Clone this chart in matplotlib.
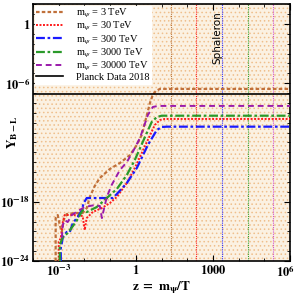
import numpy as np
import matplotlib
matplotlib.use("Agg")
import matplotlib.pyplot as plt
import matplotlib.transforms as mtransforms

plt.rcParams['font.family'] = ['Liberation Serif', 'DejaVu Serif']
plt.rcParams['mathtext.fontset'] = 'stix'
plt.rcParams['hatch.linewidth'] = 0.6

# masses (TeV) and sphaleron decoupling temperature (GeV)
masses = [3, 30, 300, 3000, 30000]
T_sph = 131.7
planck = 7.5e-8

# curves, as log10(z) and log10(Y_B-L)
lz_3 = [-3.12, -3.12, -3.04, -2.96, -2.88, -2.81, -2.69, -2.38, -2.07, -1.91, -1.79, -1.60,
        -1.40, -1.01, -0.62, -0.23, 0.04, 0.23, 0.43, 0.55, 0.66, 0.78, 0.94, 6.0]
ly_3 = [-24.0, -19.65, -19.34, -20.35, -21.06, -19.85, -19.24, -19.14, -19.14, -18.63, -17.52, -16.41,
        -15.59, -14.68, -14.08, -13.27, -12.25, -11.24, -9.22, -8.0, -7.19, -6.78, -6.58, -6.58]

lz_30 = [-3.00, -3.00, -2.92, -2.84, -2.77, -2.38, -2.07, -1.99, -1.91, -1.68, -1.32,
         -1.01, -0.74, -0.35, -0.04, 0.43, 0.74, 0.94, 1.13, 6.0]
ly_30 = [-24.0, -22.08, -21.67, -20.05, -19.34, -19.34, -19.44, -20.86, -19.65, -19.04, -18.63,
         -18.13, -17.52, -16.10, -14.58, -11.95, -10.23, -9.72, -9.62, -9.62]

lz_300 = [-2.92, -2.92, -2.88, -2.84, -2.69, -2.57, -2.45, -2.26, -2.10, -2.03, -1.91, -1.40,
          -0.90, -0.74, -0.35, 0.04, 0.47, 0.82, 1.01, 1.21, 6.0]
ly_300 = [-24.0, -22.68, -22.18, -21.57, -21.06, -21.06, -20.15, -19.54, -18.84, -18.13, -17.62, -17.62,
          -17.62, -17.22, -16.10, -14.58, -12.25, -10.73, -10.43, -10.40, -10.40]

lz_3000 = [-2.96, -2.96, -2.84, -2.65, -2.45, -2.26, -2.07, -1.91, -1.52, -1.13, -0.74,
           -0.35, -0.04, 0.27, 0.62, 0.82, 1.01, 6.0]
ly_3000 = [-24.0, -22.38, -21.57, -21.16, -20.46, -19.75, -18.84, -19.04, -18.53, -17.62, -16.71,
           -15.29, -13.77, -11.95, -9.92, -9.42, -9.29, -9.29]

lz_30000 = [-2.88, -2.84, -2.77, -2.65, -2.49, -2.26, -1.99, -1.60, -1.40, -1.32, -1.25,
            -1.13, -0.94, -0.62, -0.35, -0.12, 0.16, 0.47, 0.66, 0.86, 6.0]
ly_30000 = [-21.67, -20.35, -19.85, -20.05, -19.34, -18.94, -18.53, -18.33, -18.43, -19.65, -18.84,
            -17.52, -16.30, -14.79, -13.98, -12.96, -11.55, -9.22, -8.41, -8.30, -8.30]

curves = [
    (lz_3, ly_3, '#c0703a', (0, (1.6, 1.0)), 1.6, r'm$_\psi$ = 3 TeV'),
    (lz_30, ly_30, '#ff1a1a', (0, (1.0, 0.8)), 1.4, r'm$_\psi$ = 30 TeV'),
    (lz_300, ly_300, '#1a1aff', (0, (4, 1.2, 1.2, 1.2)), 1.6, r'm$_\psi$ = 300 TeV'),
    (lz_3000, ly_3000, '#2a9a2a', (0, (4, 1.2, 1.2, 1.2)), 1.6, r'm$_\psi$ = 3000 TeV'),
    (lz_30000, ly_30000, '#9a1aaa', (0, (3, 2)), 1.4, r'm$_\psi$ = 30000 TeV'),
]
vline_colors = ['#b8743c', '#ff2020', '#3030ff', '#30a030', '#d050d0']

fig = plt.figure(figsize=(2.95, 2.95), dpi=100)
ax = fig.add_axes([0.112, 0.115, 0.871, 0.871])
ax.set_xscale('log')
ax.set_yscale('log')
ax.set_xlim(1e-4, 1e6)
ax.set_ylim(1e-24, 1e2)

# dotted orange background
ax.set_facecolor('#fbf1e2')
ax.fill_between([1e-4, 1e6], 1e-24, 1e2, facecolor='none', edgecolor='#efbf8c',
                hatch='....', linewidth=0, zorder=0)

for m, c in zip(masses, vline_colors):
    ax.axvline(m * 1000 / T_sph, color=c, ls=(0, (1, 1)), lw=0.8, zorder=1)

for lz, ly, c, ls, lw, lab in curves:
    ax.plot(10 ** np.array(lz), 10 ** np.array(ly), color=c, ls=ls, lw=lw, label=lab, zorder=3)

# Planck line drawn above the legend box
ax.axhline(planck, color='black', lw=1.2, label='Planck Data 2018', zorder=6)

ax.text(1500, 10 ** -1.4, 'Sphaleron', rotation=90, ha='center', va='center',
        fontsize=7.5, family='DejaVu Sans', zorder=4)

ax.set_xticks([1e-3, 1, 1e3, 1e6])
ax.set_xticklabels([r'$\mathbf{10^{-3}}$', r'$\mathbf{1}$', r'$\mathbf{1000}$', r'$\mathbf{10^{6}}$'])
ax.set_xticks(10.0 ** np.arange(-4, 7), minor=True)
ax.xaxis.set_minor_formatter(matplotlib.ticker.NullFormatter())
ax.set_yticks([1e-24, 1e-18, 1e-6, 1])
ax.set_yticklabels([r'$\mathbf{10^{-24}}$', r'$\mathbf{10^{-18}}$', r'$\mathbf{10^{-6}}$', r'$\mathbf{1}$'])
ax.set_yticks(10.0 ** np.arange(-24, 3), minor=True)
ax.yaxis.set_minor_formatter(matplotlib.ticker.NullFormatter())
ax.tick_params(which='both', direction='in', top=True, right=True, labelsize=9, pad=2)
ax.tick_params(which='major', length=4, width=0.8)
ax.tick_params(which='minor', length=2.5, width=0.6)
for s in ax.spines.values():
    s.set_linewidth(1.2)

# keep the last x tick label inside the figure
last = ax.get_xticklabels()[-1]
last.set_transform(last.get_transform() + mtransforms.ScaledTranslation(-5 / 100, 0, fig.dpi_scale_trans))

ax.set_xlabel(r'$\mathbf{z\ =\ m_\psi/T}$', fontsize=9.5, labelpad=0)
ax.set_ylabel(r'$\mathbf{Y_{B-L}}$', fontsize=9.5)
ax.yaxis.set_label_coords(-0.05, 0.5)

leg = ax.legend(loc='upper left', fontsize=7.5, frameon=True, fancybox=False, framealpha=1,
                edgecolor='white', handlelength=2.6, handletextpad=1.2, labelspacing=0.0,
                borderpad=0.15, borderaxespad=0.15)
leg.set_zorder(5)

fig.savefig('out.png', dpi=100)
